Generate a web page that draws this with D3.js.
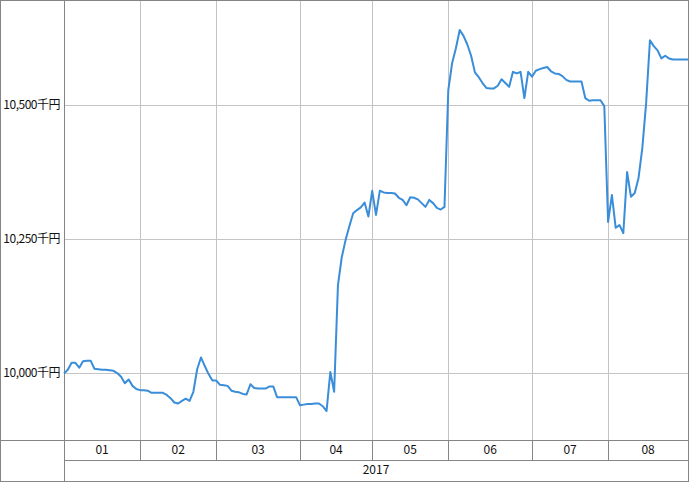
<!DOCTYPE html>
<html>
<head>
<meta charset="utf-8">
<script src="https://cdn.jsdelivr.net/npm/d3@7/dist/d3.min.js"></script>
<style>
  body { margin: 0; background: #fff; }
  text { font-family: 'Noto Sans CJK JP', 'DejaVu Sans', sans-serif; fill: #111; }
</style>
</head>
<body>
<div id="chart"></div>
<script>
/* global d3 */

// one value per trading day, grouped by month (千円)
var jan = [9999, 10006, 10019, 10019, 10010, 10022, 10023, 10023, 10008, 10007, 10006, 10006, 10005, 10004, 10000, 9993, 9981, 9988, 9976, 9970]
var feb = [9968, 9968, 9967, 9963, 9963, 9963, 9963, 9959, 9953, 9945, 9943, 9948, 9952, 9948, 9965, 10007, 10029, 10013, 9998, 9986]
var mar = [9986, 9978, 9977, 9976, 9967, 9965, 9964, 9961, 9960, 9979, 9972, 9971, 9971, 9971, 9975, 9975, 9955, 9955, 9955, 9955, 9955, 9955]
var apr = [9940, 9941, 9942, 9942, 9943, 9943, 9938, 9929, 10002, 9965, 10164, 10216, 10248, 10274, 10298, 10304, 10309, 10318, 10292]
var may = [10340, 10295, 10340, 10337, 10336, 10336, 10335, 10327, 10323, 10313, 10328, 10327, 10324, 10317, 10310, 10323, 10317, 10308, 10305, 10310]
var jun = [10528, 10578, 10606, 10640, 10629, 10613, 10592, 10561, 10552, 10541, 10532, 10531, 10531, 10536, 10548, 10541, 10534, 10562, 10559, 10562, 10513, 10562]
var jul = [10553, 10564, 10567, 10569, 10571, 10563, 10559, 10558, 10554, 10547, 10544, 10544, 10544, 10544, 10513, 10508, 10509, 10509, 10509, 10498]
var aug = [10282, 10332, 10271, 10276, 10261, 10375, 10329, 10336, 10364, 10420, 10504, 10621, 10610, 10602, 10587, 10592, 10587, 10585, 10585, 10585, 10585, 10585]

var monthLabels = ['01', '02', '03', '04', '05', '06', '07', '08']
var monthValues = [jan, feb, mar, apr, may, jun, jul, aug]
var yearLabel = '2017'
var yTicks = [10000, 10250, 10500]
var yDomain = [9875, 10696]

var width = 689
var height = 482
var plot = { left: 64, right: 688, top: 0, bottom: 440 }
var rowHeight = 20
var frameColor = '#858585'
var gridColor = '#c4c4c4'

var values = []
var bounds = [0]
monthValues.forEach(function (m) {
  m.forEach(function (v) { values.push(v) })
  bounds.push(values.length)
})

var x = d3.scaleLinear()
  .domain([0, values.length - 1])
  .range([plot.left, plot.right])

var y = d3.scaleLinear()
  .domain(yDomain)
  .range([plot.bottom, plot.top])

function px (v) { return Math.round(v) + 0.5 }

var svg = d3.select('#chart')
  .append('svg')
  .attr('width', width)
  .attr('height', height)
  .style('display', 'block')

// horizontal grid + value labels
var yAxis = svg.append('g')
  .attr('transform', 'translate(' + plot.left + ',0)')
  .call(d3.axisLeft(y)
    .tickValues(yTicks)
    .tickSize(-(plot.right - plot.left))
    .tickPadding(4)
    .tickFormat(function (d) { return d3.format(',')(d) + '千円' }))

yAxis.select('.domain').remove()
yAxis.selectAll('.tick line')
  .attr('stroke', gridColor)
  .attr('shape-rendering', 'crispEdges')
yAxis.selectAll('.tick text')
  .style('font-size', '12px')
  .style('letter-spacing', '-0.5px')
  .attr('fill', '#111')

// month boundaries: light in the plot, dark in the axis row
var inner = bounds.slice(1, bounds.length - 1)
svg.selectAll('.vgrid')
  .data(inner)
  .enter().append('line')
  .attr('class', 'vgrid')
  .attr('x1', function (d) { return px(x(d)) })
  .attr('x2', function (d) { return px(x(d)) })
  .attr('y1', plot.top)
  .attr('y2', plot.bottom)
  .attr('stroke', gridColor)

svg.selectAll('.vsep')
  .data(inner)
  .enter().append('line')
  .attr('class', 'vsep')
  .attr('x1', function (d) { return px(x(d)) })
  .attr('x2', function (d) { return px(x(d)) })
  .attr('y1', plot.bottom)
  .attr('y2', plot.bottom + rowHeight)
  .attr('stroke', frameColor)

// frame
var frame = svg.append('g')
  .attr('stroke', frameColor)
  .attr('shape-rendering', 'crispEdges')
frame.append('rect')
  .attr('x', 0.5).attr('y', 0.5)
  .attr('width', plot.right)
  .attr('height', plot.bottom + rowHeight * 2 + 0.5)
  .attr('fill', 'none')
frame.append('line')
  .attr('x1', px(plot.left)).attr('x2', px(plot.left))
  .attr('y1', 0).attr('y2', plot.bottom + rowHeight * 2 + 1)
frame.append('line')
  .attr('x1', 0).attr('x2', plot.right + 1)
  .attr('y1', px(plot.bottom)).attr('y2', px(plot.bottom))
frame.append('line')
  .attr('x1', plot.left).attr('x2', plot.right + 1)
  .attr('y1', px(plot.bottom + rowHeight)).attr('y2', px(plot.bottom + rowHeight))

// month labels
svg.selectAll('.month')
  .data(monthLabels)
  .enter().append('text')
  .attr('class', 'month')
  .attr('x', function (d, i) {
    var end = Math.min(bounds[i + 1], values.length - 1)
    return (x(bounds[i]) + x(end)) / 2
  })
  .attr('y', plot.bottom + rowHeight / 2)
  .attr('dy', '0.35em')
  .style('text-anchor', 'middle')
  .style('font-size', '12px')
  .text(function (d) { return d })

svg.append('text')
  .attr('x', (plot.left + plot.right) / 2)
  .attr('y', plot.bottom + rowHeight * 1.5)
  .attr('dy', '0.35em')
  .style('text-anchor', 'middle')
  .style('font-size', '12px')
  .text(yearLabel)

// the series
var line = d3.line()
  .x(function (d, i) { return x(i) })
  .y(function (d) { return y(d) })

svg.append('path')
  .datum(values)
  .attr('d', line)
  .attr('fill', 'none')
  .attr('stroke', '#3a8dd9')
  .attr('stroke-width', 2)
  .attr('stroke-linejoin', 'round')
</script>
</body>
</html>
